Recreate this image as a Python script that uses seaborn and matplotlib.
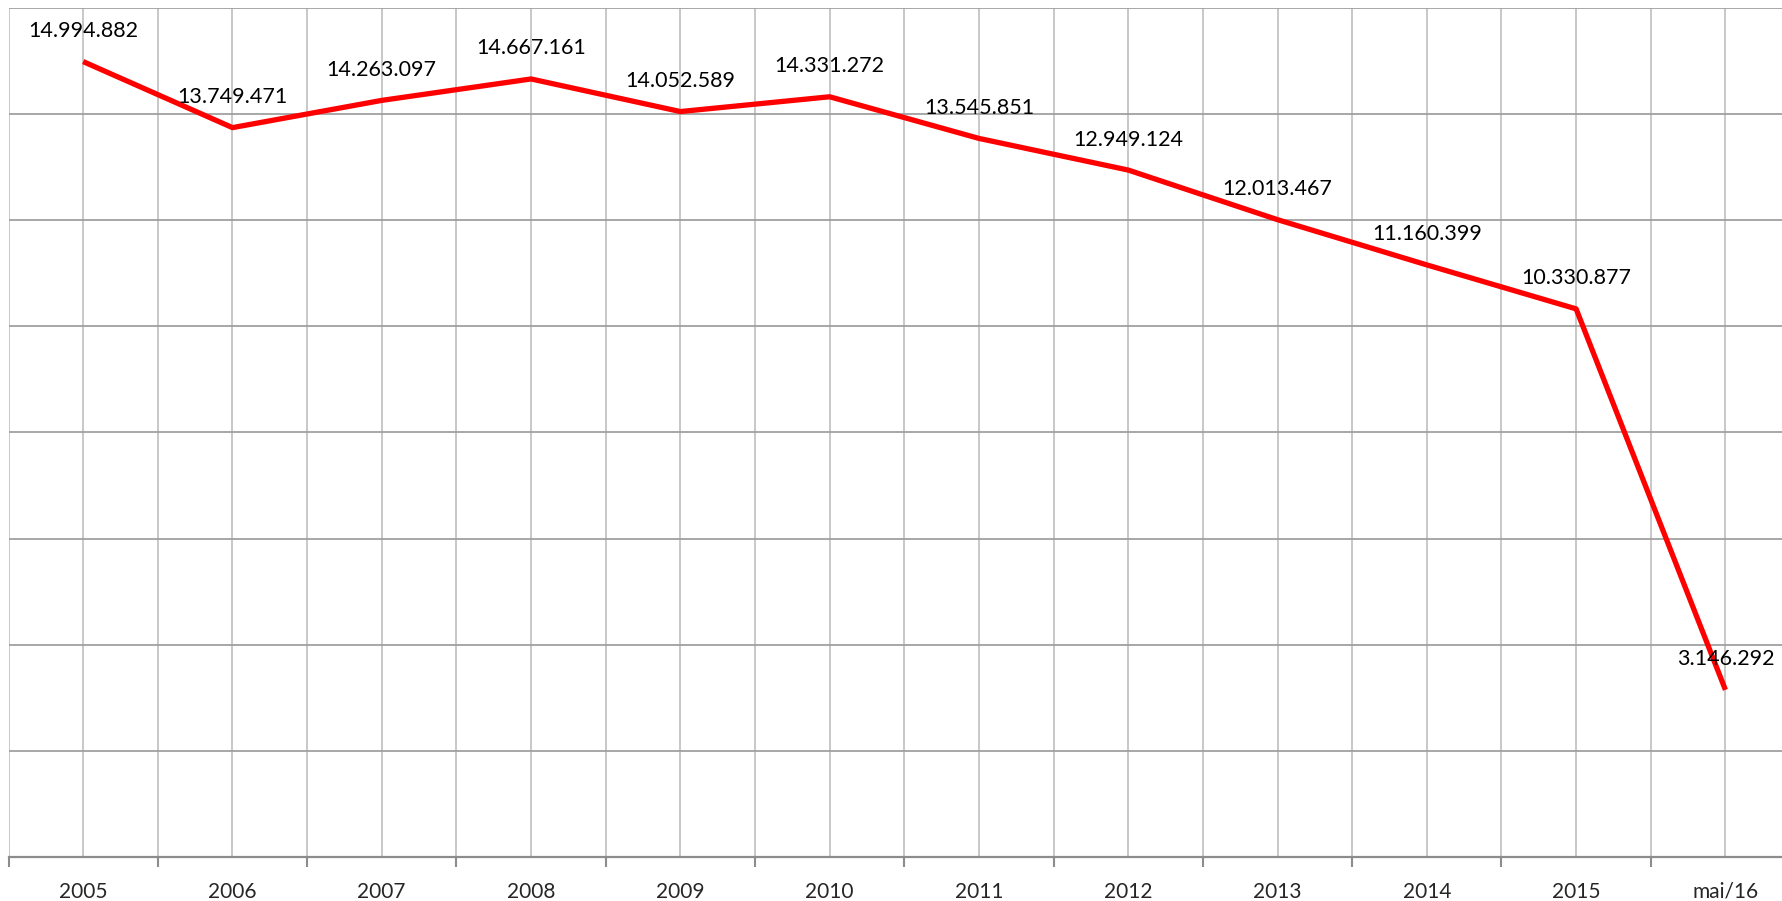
import numpy as np
import pandas as pd
import matplotlib
matplotlib.use("Agg")
import matplotlib.pyplot as plt
import seaborn as sns


# Data
categories = ["2005", "2006", "2007", "2008", "2009", "2010",
              "2011", "2012", "2013", "2014", "2015", "mai/16"]
values = [14994882, 13749471, 14263097, 14667161, 14052589, 14331272,
          13545851, 12949124, 12013467, 11160399, 10330877, 3146292]

# Configuration
sns.set_theme(style="white")
plt.rcParams["font.family"] = ["Lato", "DejaVu Sans"]


def fmt_br(v: int) -> str:
    return f"{v:,}".replace(",", ".")


def main() -> None:
    df = pd.DataFrame({"pos": np.arange(len(categories)), "value": values})

    fig = plt.figure(figsize=(17.83, 9.01), dpi=100)
    ax = fig.add_axes([0.00477, 0.0492, 1.0048, 0.9416])

    sns.lineplot(data=df, x="pos", y="value", color="#ff0000",
                 linewidth=3.8, ax=ax, solid_capstyle="butt")

    for x, v in zip(df["pos"], df["value"]):
        ax.annotate(fmt_br(v), (x, v), xytext=(0, 22), textcoords="offset points",
                    ha="center", va="center", fontsize=15.5, color="black")

    ax.set_xlim(-0.5, len(categories) - 0.5)
    ax.set_ylim(0, 16_000_000)
    ax.set_yticks(np.arange(0, 16_000_001, 2_000_000))
    ax.set_yticklabels([])
    ax.tick_params(axis="y", length=0)

    ax.set_xticks(df["pos"])
    ax.set_xticklabels(categories, fontsize=15)
    ax.set_xticks(np.arange(-0.5, len(categories), 1), minor=True)
    ax.tick_params(axis="x", which="major", length=0, pad=18)
    ax.tick_params(axis="x", which="minor", length=7, width=1.5,
                   color="#8c8c8c", direction="out", bottom=True)

    ax.grid(axis="y", color="#a0a0a0", linewidth=1.3)
    ax.grid(axis="x", which="both", color="#c4c4c4", linewidth=1.3)
    ax.set_axisbelow(True)

    for side in ["top", "left", "right"]:
        ax.spines[side].set_visible(False)
    ax.spines["bottom"].set_color("#8c8c8c")
    ax.spines["bottom"].set_linewidth(1.6)

    ax.set_xlabel("")
    ax.set_ylabel("")

    fig.savefig("out.png", dpi=100)
    plt.close(fig)


if __name__ == "__main__":
    main()
